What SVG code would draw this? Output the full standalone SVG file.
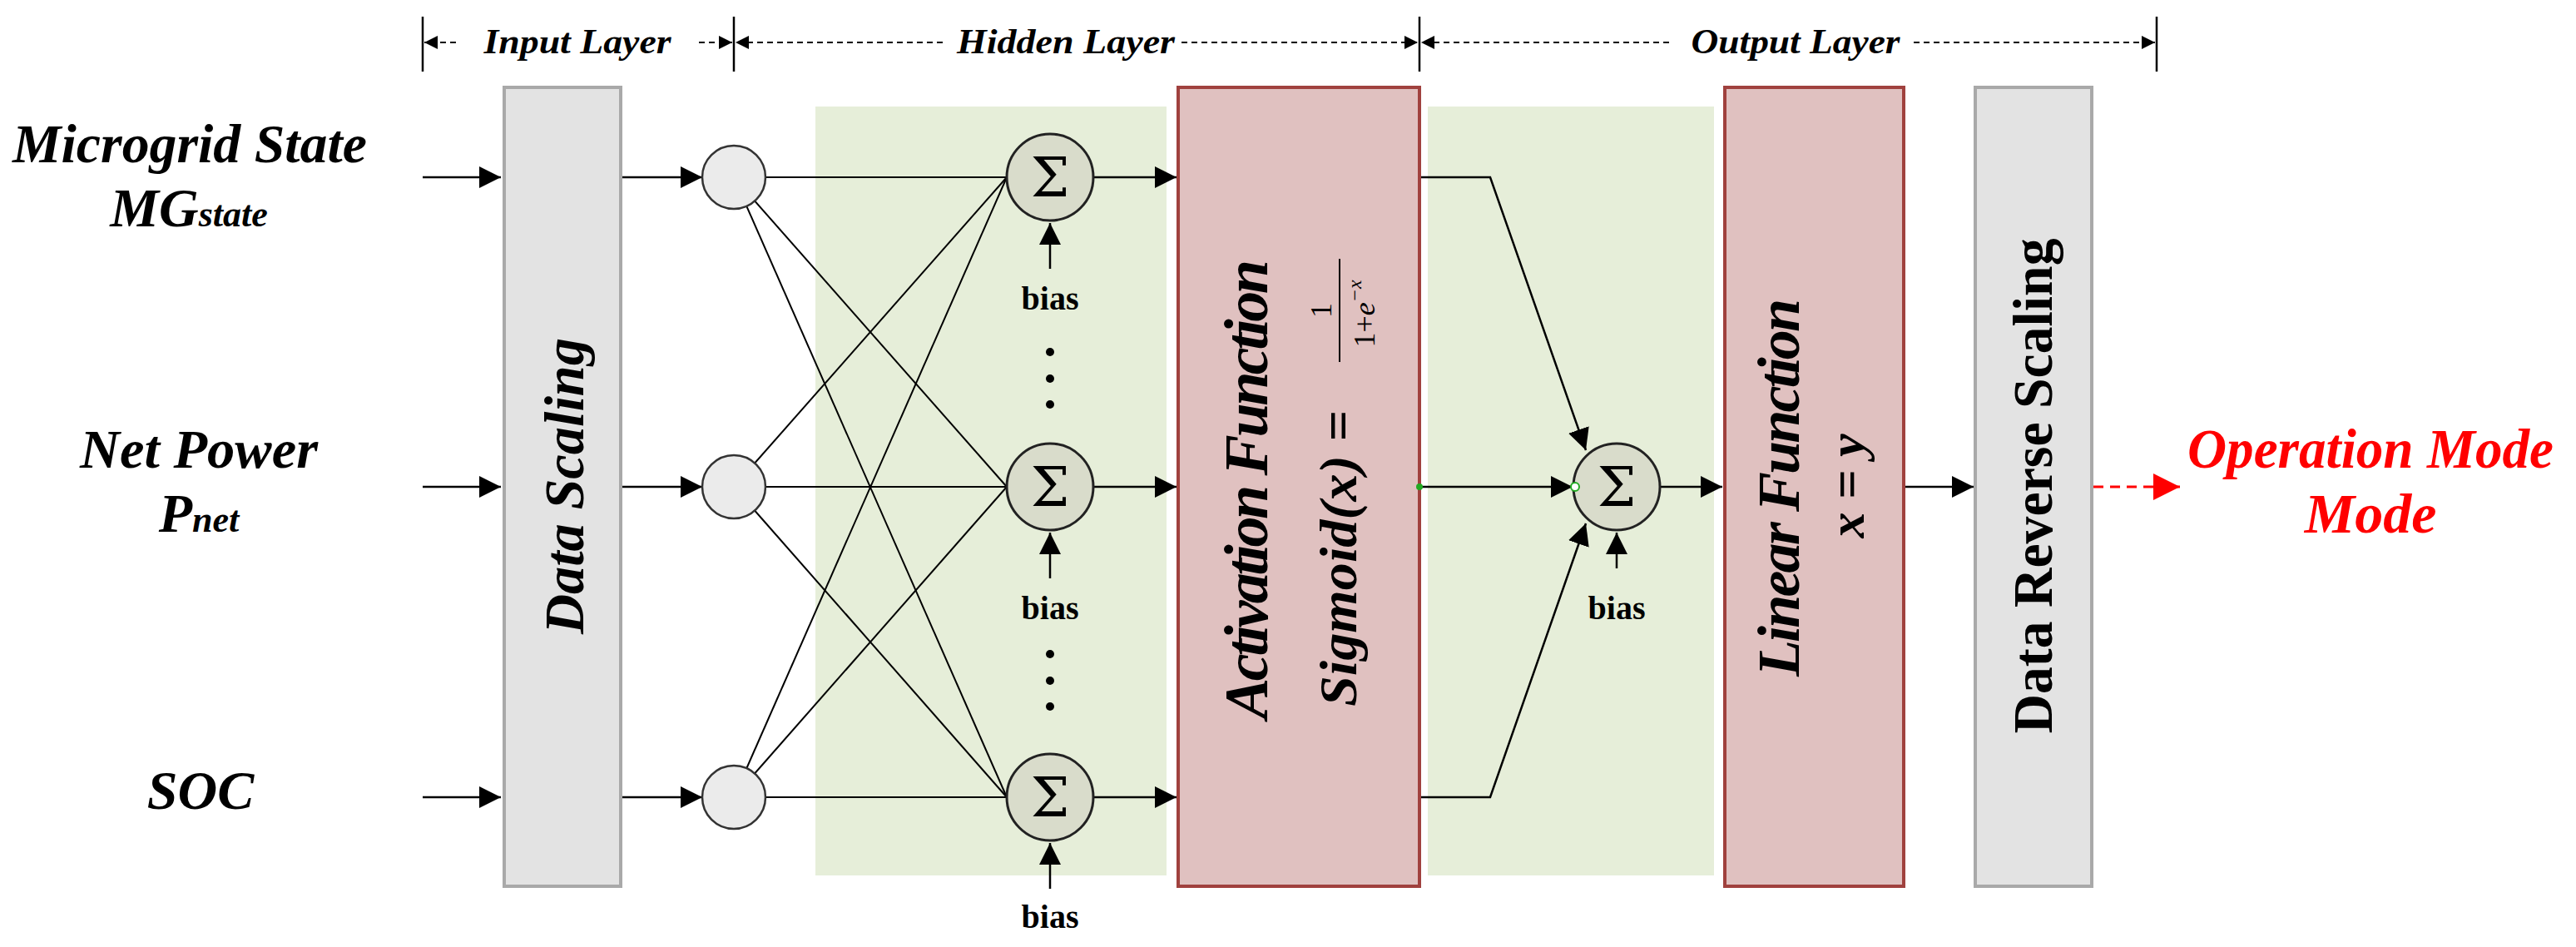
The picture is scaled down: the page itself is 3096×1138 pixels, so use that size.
<svg xmlns="http://www.w3.org/2000/svg" width="3096" height="1138" viewBox="0 0 3096 1138">
<style>
.t{font-family:"Liberation Serif",serif;font-weight:bold;font-style:italic;fill:#000}
.b{font-family:"Liberation Serif",serif;font-weight:bold;fill:#000}
.ln{stroke:#000;stroke-width:2.5;fill:none}
.ar{stroke:#000;stroke-width:2.5;fill:none;marker-end:url(#ah)}
.dash{stroke:#000;stroke-width:2;stroke-dasharray:7,5;fill:none}
.in{fill:#ebebeb;stroke:#333;stroke-width:2.5}
.sum{fill:#d9dccb;stroke:#222;stroke-width:3}
.gray{fill:#e3e3e3;stroke:#a9a9a9;stroke-width:4}
.pink{fill:#e0c1c0;stroke:#a0413e;stroke-width:4}
.grn{fill:#e6eed9}
</style>
<defs>
<marker id="ah" viewBox="0 0 10 10" refX="10" refY="5" markerWidth="10" markerHeight="10" markerUnits="userSpaceOnUse" orient="auto"><path d="M0,0L10,5L0,10z" fill="#000"/></marker>
<marker id="ah2" viewBox="0 0 10 10" refX="10" refY="5" markerWidth="26" markerHeight="26" markerUnits="userSpaceOnUse" orient="auto"><path d="M0,0L10,5L0,10z" fill="#000"/></marker>
<marker id="sm" viewBox="0 0 10 10" refX="10" refY="5" markerWidth="16" markerHeight="16" markerUnits="userSpaceOnUse" orient="auto"><path d="M0,0L10,5L0,10z" fill="#000"/></marker>
<marker id="red" viewBox="0 0 10 10" refX="10" refY="5" markerWidth="32" markerHeight="32" markerUnits="userSpaceOnUse" orient="auto"><path d="M0,0L10,5L0,10z" fill="#f00"/></marker>
</defs>
<rect width="3096" height="1138" fill="#fff"/>
<g id="backgrounds">
<rect class="grn" x="980" y="128" width="422" height="924"/>
<rect class="grn" x="1716" y="128" width="344" height="924"/>
</g>
<g id="layer-labels">
<line class="ln" x1="508" y1="20" x2="508" y2="86" stroke-width="2"/>
<line class="ln" x1="882" y1="20" x2="882" y2="86" stroke-width="2"/>
<line class="ln" x1="1706" y1="20" x2="1706" y2="86" stroke-width="2"/>
<line class="ln" x1="2592" y1="20" x2="2592" y2="86" stroke-width="2"/>
<path class="dash" d="M548,51H510" marker-end="url(#sm)"/>
<path class="dash" d="M840,51H880" marker-end="url(#sm)"/>
<path class="dash" d="M1133,51H884" marker-end="url(#sm)"/>
<path class="dash" d="M1420,51H1704" marker-end="url(#sm)"/>
<path class="dash" d="M2006,51H1708" marker-end="url(#sm)"/>
<path class="dash" d="M2300,51H2590" marker-end="url(#sm)"/>
<text class="t" x="694" y="64" font-size="42" text-anchor="middle" textLength="225" lengthAdjust="spacingAndGlyphs">Input Layer</text>
<text class="t" x="1281" y="64" font-size="42" text-anchor="middle" textLength="262" lengthAdjust="spacingAndGlyphs">Hidden Layer</text>
<text class="t" x="2158" y="64" font-size="42" text-anchor="middle" textLength="251" lengthAdjust="spacingAndGlyphs">Output Layer</text>
</g>
<g id="inputs">
<text class="t" x="228" y="195" font-size="66" text-anchor="middle" textLength="426" lengthAdjust="spacingAndGlyphs">Microgrid State</text>
<text class="t" x="227" y="272" font-size="66" text-anchor="middle">MG<tspan font-size="44">state</tspan></text>
<text class="t" x="239" y="562" font-size="66" text-anchor="middle" textLength="286" lengthAdjust="spacingAndGlyphs">Net Power</text>
<text class="t" x="239" y="639" font-size="66" text-anchor="middle">P<tspan font-size="44">net</tspan></text>
<text class="t" x="241" y="972" font-size="66" text-anchor="middle">SOC</text>
</g>
<g id="connectors">
<path class="ln" d="M508,213H602" marker-end="url(#ah2)"/>
<path class="ln" d="M508,585H602" marker-end="url(#ah2)"/>
<path class="ln" d="M508,958H602" marker-end="url(#ah2)"/>
<path class="ln" d="M746,213H844" marker-end="url(#ah2)"/>
<path class="ln" d="M746,585H844" marker-end="url(#ah2)"/>
<path class="ln" d="M746,958H844" marker-end="url(#ah2)"/>
<g stroke="#000" stroke-width="2">
<line x1="882" y1="213" x2="1210" y2="213"/><line x1="882" y1="213" x2="1210" y2="585"/><line x1="882" y1="213" x2="1210" y2="958"/>
<line x1="882" y1="585" x2="1210" y2="213"/><line x1="882" y1="585" x2="1210" y2="585"/><line x1="882" y1="585" x2="1210" y2="958"/>
<line x1="882" y1="958" x2="1210" y2="213"/><line x1="882" y1="958" x2="1210" y2="585"/><line x1="882" y1="958" x2="1210" y2="958"/>
</g>
<path class="ln" d="M1314,213H1414" marker-end="url(#ah2)"/>
<path class="ln" d="M1314,585H1414" marker-end="url(#ah2)"/>
<path class="ln" d="M1314,958H1414" marker-end="url(#ah2)"/>
<path class="ln" d="M1262,323V268" marker-end="url(#ah2)"/>
<path class="ln" d="M1262,695V640" marker-end="url(#ah2)"/>
<path class="ln" d="M1262,1068V1013" marker-end="url(#ah2)"/>
<path class="ln" d="M1706,213H1791L1906,541" marker-end="url(#ah2)"/>
<path class="ln" d="M1706,958H1791L1906,629" marker-end="url(#ah2)"/>
<path class="ln" d="M1706,585H1890" marker-end="url(#ah2)"/>
<path class="ln" d="M1943,683V640" marker-end="url(#ah2)"/>
<path class="ln" d="M1996,585H2070" marker-end="url(#ah2)"/>
<path class="ln" d="M2288,585H2372" marker-end="url(#ah2)"/>
<path d="M2516,585H2620" stroke="#f00" stroke-width="3" stroke-dasharray="12,8" fill="none" marker-end="url(#red)"/>
</g>
<g id="data-scaling">
<rect class="gray" x="606" y="105" width="140" height="960"/>
<text class="t" transform="translate(701,584) rotate(-90)" font-size="68" text-anchor="middle" textLength="356" lengthAdjust="spacingAndGlyphs">Data Scaling</text>
</g>
<g id="input-nodes">
<circle class="in" cx="882" cy="213" r="38"/>
<circle class="in" cx="882" cy="585" r="38"/>
<circle class="in" cx="882" cy="958" r="38"/>
</g>
<g id="hidden-nodes">
<circle class="sum" cx="1262" cy="213" r="52"/>
<circle class="sum" cx="1262" cy="585" r="52"/>
<circle class="sum" cx="1262" cy="958" r="52"/>
<g font-family="'DejaVu Serif',serif" font-size="66" text-anchor="middle">
<text x="1262" y="236">Σ</text><text x="1262" y="608">Σ</text><text x="1262" y="981">Σ</text>
</g>
<text class="b" x="1262" y="372" font-size="40" text-anchor="middle">bias</text>
<text class="b" x="1262" y="744" font-size="40" text-anchor="middle">bias</text>
<text class="b" x="1262" y="1115" font-size="40" text-anchor="middle">bias</text>
<g fill="#000">
<circle cx="1262" cy="423" r="5"/><circle cx="1262" cy="455" r="5"/><circle cx="1262" cy="486" r="5"/>
<circle cx="1262" cy="786" r="5"/><circle cx="1262" cy="818" r="5"/><circle cx="1262" cy="849" r="5"/>
</g>
</g>
<g id="activation">
<rect class="pink" x="1416" y="105" width="290" height="960"/>
<text class="t" transform="translate(1523,588) rotate(-90)" font-size="74" text-anchor="middle" textLength="552" lengthAdjust="spacing">Activation Function</text>
<text class="t" transform="translate(1630,671) rotate(-90)" font-size="64" text-anchor="middle" textLength="356" lengthAdjust="spacingAndGlyphs">Sigmoid(x) =</text>
<g transform="translate(1610,373) rotate(-90)">
<line x1="-62" y1="0" x2="62" y2="0" stroke="#000" stroke-width="2"/>
<text font-family="'Liberation Serif',serif" font-size="36" x="0" y="-10" text-anchor="middle">1</text>
<text font-family="'Liberation Serif',serif" font-size="36" x="-4" y="42" text-anchor="middle">1+<tspan font-style="italic">e</tspan><tspan font-size="24" dy="-16" font-style="italic">−x</tspan></text>
</g>
<circle cx="1706" cy="585" r="4" fill="#2a2"/>
</g>
<g id="output-node">
<circle class="sum" cx="1943" cy="585" r="52"/>
<text x="1943" y="608" font-family="'DejaVu Serif',serif" font-size="66" text-anchor="middle">Σ</text>
<circle cx="1893" cy="585" r="5" fill="#fff" stroke="#2a2" stroke-width="2"/>
<text class="b" x="1943" y="744" font-size="40" text-anchor="middle">bias</text>
</g>
<g id="linear">
<rect class="pink" x="2073" y="105" width="215" height="960"/>
<text class="t" transform="translate(2162,586) rotate(-90)" font-size="72" text-anchor="middle" textLength="454" lengthAdjust="spacing">Linear Function</text>
<text class="t" transform="translate(2240,584) rotate(-90)" font-size="62" text-anchor="middle">x = y</text>
</g>
<g id="reverse-scaling">
<rect class="gray" x="2374" y="105" width="140" height="960"/>
<text class="b" transform="translate(2466,584) rotate(-90)" font-size="68" text-anchor="middle" textLength="595" lengthAdjust="spacingAndGlyphs">Data Reverse Scaling</text>
</g>
<g id="output">
<text class="t" x="2849" y="562" font-size="68" fill="#f00" style="fill:#f00" text-anchor="middle" textLength="440" lengthAdjust="spacingAndGlyphs">Operation Mode</text>
<text class="t" x="2849" y="640" font-size="68" style="fill:#f00" text-anchor="middle">Mode</text>
</g>
</svg>
